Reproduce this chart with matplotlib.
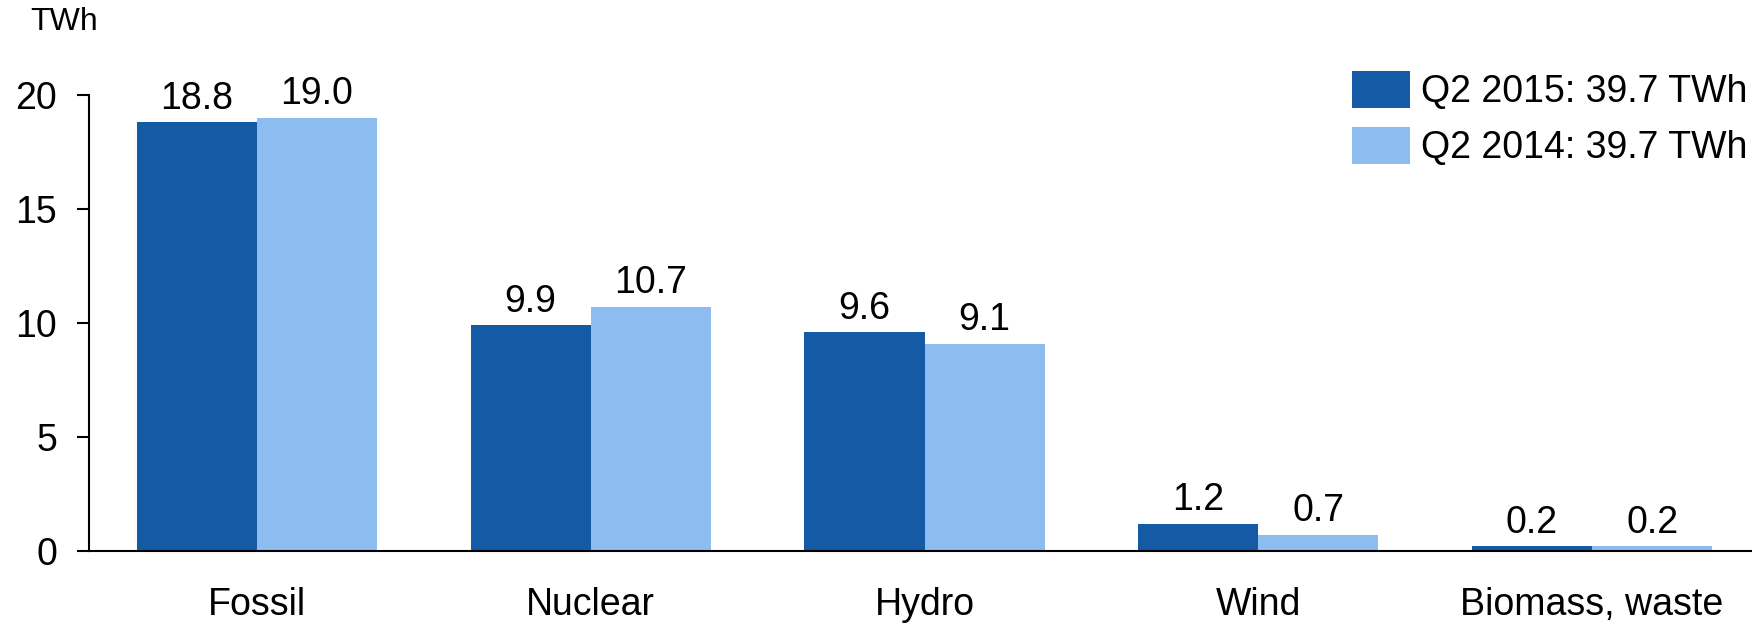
import matplotlib
matplotlib.use("Agg")
import matplotlib.pyplot as plt
import numpy as np

categories = ["Fossil", "Nuclear", "Hydro", "Wind", "Biomass, waste"]
q2_2015 = [18.8, 9.9, 9.6, 1.2, 0.2]
q2_2014 = [19.0, 10.7, 9.1, 0.7, 0.2]
series_labels = ["Q2 2015: 39.7 TWh", "Q2 2014: 39.7 TWh"]
y_ticks = [0, 5, 10, 15, 20]
unit = "TWh"

dark = "#155AA5"
light = "#8CBCF0"
fs = 27

plt.rcParams["font.family"] = ["Liberation Sans", "DejaVu Sans"]

fig = plt.figure(figsize=(17.52, 6.23), dpi=100)
ax = fig.add_axes([0.0508, 0.1156, 0.9492, 0.7319])

x = np.arange(len(categories))
w = 0.36
b1 = ax.bar(x - w / 2, q2_2015, width=w, color=dark, label=series_labels[0])
b2 = ax.bar(x + w / 2, q2_2014, width=w, color=light, label=series_labels[1])

for bars, vals in ((b1, q2_2015), (b2, q2_2014)):
    for rect, v in zip(bars, vals):
        ax.annotate(f"{v:.1f}", (rect.get_x() + rect.get_width() / 2, v),
                    xytext=(0, 4), textcoords="offset points",
                    ha="center", va="bottom", fontsize=fs)

ax.set_xlim(-0.503, 4.479)
ax.set_ylim(0, 20)
ax.set_yticks(y_ticks)
ax.set_xticks(x)
ax.set_xticklabels(categories)

for s in ("top", "right"):
    ax.spines[s].set_visible(False)
for s in ("left", "bottom"):
    ax.spines[s].set_linewidth(1.5)

ax.tick_params(axis="y", length=9, width=1.5, pad=14, labelsize=fs)
ax.tick_params(axis="x", length=0, pad=26, labelsize=fs)

fig.text(0.017, 0.965, unit, fontsize=23, ha="left", va="center")

leg = fig.legend(handles=[b1, b2], labels=series_labels,
                 loc="upper left", bbox_to_anchor=(1352 / 1752, 1 - 71 / 623),
                 frameon=False, fontsize=fs, handlelength=1.55, handleheight=1.14,
                 handletextpad=0.3, labelspacing=0.44, borderpad=0,
                 borderaxespad=0)

fig.savefig("out.png", dpi=100)
